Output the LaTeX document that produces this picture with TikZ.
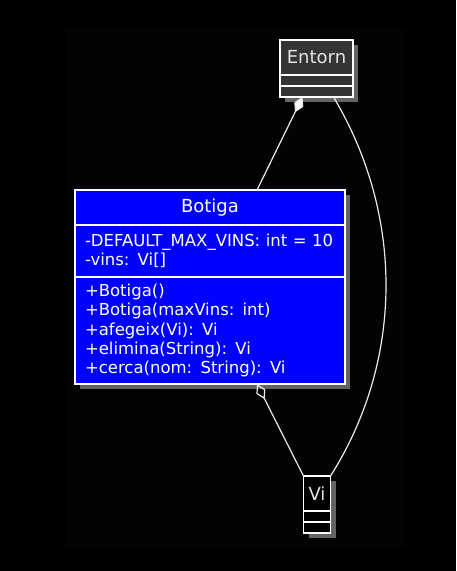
\documentclass[tikz,border=0pt]{standalone}
\usepackage{fontspec}
\setmainfont{DejaVu Sans}
\usepackage{xcolor}
\usetikzlibrary{arrows.meta,positioning,shadows}

\definecolor{bgouter}{RGB}{0,0,0}
\definecolor{bginner}{RGB}{3,3,3}
\definecolor{entornfill}{RGB}{52,52,52}
\definecolor{botigafill}{RGB}{0,0,255}
\definecolor{pale}{RGB}{228,228,228}
\definecolor{shadowgray}{RGB}{100,100,100}

\begin{document}
\begin{tikzpicture}[x=1pt,y=-1pt,
  classbox/.style={draw=white, line width=1.4pt, inner sep=0pt, outer sep=0pt,
    drop shadow={shadow xshift=5pt, shadow yshift=-5pt, fill=shadowgray, opacity=1}},
  classhead/.style={classbox, minimum height=35pt, font=\fontsize{18}{21}\selectfont},
  compart/.style={classbox, minimum height=11pt},
  members/.style={classbox, align=left, text width=250pt, inner xsep=10pt,
    text=white, font=\fontsize{16.5}{19.3}\selectfont},
  link/.style={draw=white!92!black, line width=1.2pt}]
  \useasboundingbox (0,0) rectangle (456,571);
  \fill[bgouter] (0,0) rectangle (456,571);
  \fill[bginner] (66,27.5) rectangle (405,548);

  % Entorn
  \node[classhead, fill=entornfill, text=pale, minimum width=73pt] (entornHead) at (316.5,57.5) {Entorn};
  \node[compart, fill=entornfill, minimum width=73pt, below=0pt of entornHead] (entornAttr) {};
  \node[compart, fill=entornfill, minimum width=73pt, below=0pt of entornAttr] (entornOps) {};

  % Botiga
  \node[classhead, fill=botigafill, text=white, minimum width=270pt] (botigaHead) at (210,207.5) {Botiga};
  \node[members, fill=botigafill, minimum height=52pt, below=0pt of botigaHead] (botigaAttr)
    {-DEFAULT\_MAX\_VINS: int = 10\\-vins: Vi[]};
  \node[members, fill=botigafill, minimum height=107pt, below=0pt of botigaAttr] (botigaOps)
    {+Botiga()\\+Botiga(maxVins: int)\\+afegeix(Vi): Vi\\+elimina(String): Vi\\+cerca(nom: String): Vi};

  % Vi
  \node[classhead, fill=black, text=pale, minimum width=27pt] (viHead) at (317,493.5) {Vi};
  \node[compart, fill=black, minimum width=27pt, below=0pt of viHead] (viAttr) {};
  \node[compart, fill=black, minimum width=27pt, below=0pt of viAttr] (viOps) {};

  % relations
  \draw[link, -{Diamond[fill=white, length=17pt, width=10pt]}] ([xshift=47pt]botigaHead.north) -- ([xshift=-14pt]entornOps.south);
  \draw[link, -{Diamond[open, length=17pt, width=10pt]}] (viHead.north west) -- ([xshift=47pt]botigaOps.south);
  \draw[link] ([xshift=17pt]entornOps.south) .. controls (404,215) and (404,360) .. (viHead.north east);
\end{tikzpicture}
\end{document}
